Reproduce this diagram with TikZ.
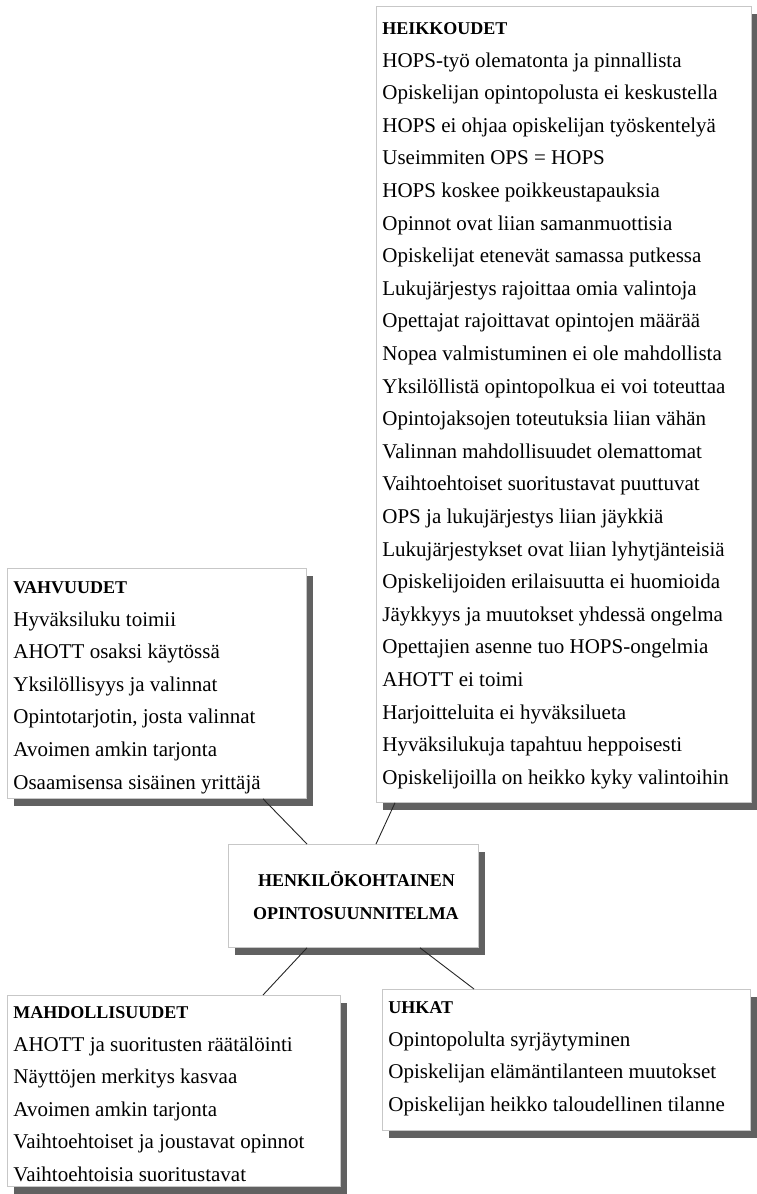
\documentclass[tikz,border=0pt]{standalone}
\usepackage{fontspec}
\setmainfont{Liberation Serif}
\usetikzlibrary{shadows}

\tikzset{
  swotbox/.style={draw=black!22, line width=0.8pt, fill=white, inner xsep=6pt, inner ysep=0pt,
    anchor=north west, drop shadow={shadow xshift=7pt, shadow yshift=-8pt, fill=black!62, opacity=1}},
  link/.style={draw=black!85, line width=0.9pt}
}
\newcommand{\hd}[1]{{\fontsize{18}{32.6}\selectfont\bfseries #1}}
\newcommand{\boxtext}[4]{\parbox[t][#2pt][t]{#1pt}{\fontsize{21}{32.6}\selectfont\rule{0pt}{#3pt}#4}}

\begin{document}
\begin{tikzpicture}[x=1pt,y=-1pt]
\useasboundingbox (0,0) rectangle (756,1194);

% weaknesses
\node[swotbox] (heik) at (376,6) {\boxtext{363}{796}{28}{\hd{HEIKKOUDET}\\
HOPS-työ olematonta ja pinnallista\\
Opiskelijan opintopolusta ei keskustella\\
HOPS ei ohjaa opiskelijan työskentelyä\\
Useimmiten OPS = HOPS\\
HOPS koskee poikkeustapauksia\\
Opinnot ovat liian samanmuottisia\\
Opiskelijat etenevät samassa putkessa\\
Lukujärjestys rajoittaa omia valintoja\\
Opettajat rajoittavat opintojen määrää\\
Nopea valmistuminen ei ole mahdollista\\
Yksilöllistä opintopolkua ei voi toteuttaa\\
Opintojaksojen toteutuksia liian vähän\\
Valinnan mahdollisuudet olemattomat\\
Vaihtoehtoiset suoritustavat puuttuvat\\
OPS ja lukujärjestys liian jäykkiä\\
Lukujärjestykset ovat liian lyhytjänteisiä\\
Opiskelijoiden erilaisuutta ei huomioida\\
Jäykkyys ja muutokset yhdessä ongelma\\
Opettajien asenne tuo HOPS-ongelmia\\
AHOTT ei toimi\\
Harjoitteluita ei hyväksilueta\\
Hyväksilukuja tapahtuu heppoisesti\\
Opiskelijoilla on heikko kyky valintoihin}};

% strengths
\node[swotbox] (vahv) at (7,568) {\boxtext{287}{230}{25}{\hd{VAHVUUDET}\\
Hyväksiluku toimii\\
AHOTT osaksi käytössä\\
Yksilöllisyys ja valinnat\\
Opintotarjotin, josta valinnat\\
Avoimen amkin tarjonta\\
Osaamisensa sisäinen yrittäjä}};

% centre
\node[swotbox, inner xsep=0pt, minimum width=250pt, minimum height=103pt, align=center,
  font=\fontsize{18}{33}\selectfont\bfseries] (hops) at (228,844)
  {\hspace*{6pt}HENKILÖKOHTAINEN\\\hspace*{5pt}OPINTOSUUNNITELMA};

% opportunities
\node[swotbox] (mahd) at (7,995) {\boxtext{321}{191}{23}{\hd{MAHDOLLISUUDET}\\
AHOTT ja suoritusten räätälöinti\\
Näyttöjen merkitys kasvaa\\
Avoimen amkin tarjonta\\
Vaihtoehtoiset ja joustavat opinnot\\
Vaihtoehtoisia suoritustavat}};

% threats
\node[swotbox] (uhk) at (382,989) {\boxtext{356}{141}{24}{\hd{UHKAT}\\
Opintopolulta syrjäytyminen\\
Opiskelijan elämäntilanteen muutokset\\
Opiskelijan heikko taloudellinen tilanne}};

\draw[link] ([xshift=256pt]vahv.south west) -- ([xshift=79pt]hops.north west);
\draw[link] ([xshift=19pt]heik.south west) -- ([xshift=148pt]hops.north west);
\draw[link] ([xshift=79pt]hops.south west) -- ([xshift=256pt]mahd.north west);
\draw[link] ([xshift=192pt]hops.south west) -- ([xshift=92pt]uhk.north west);
\end{tikzpicture}
\end{document}
